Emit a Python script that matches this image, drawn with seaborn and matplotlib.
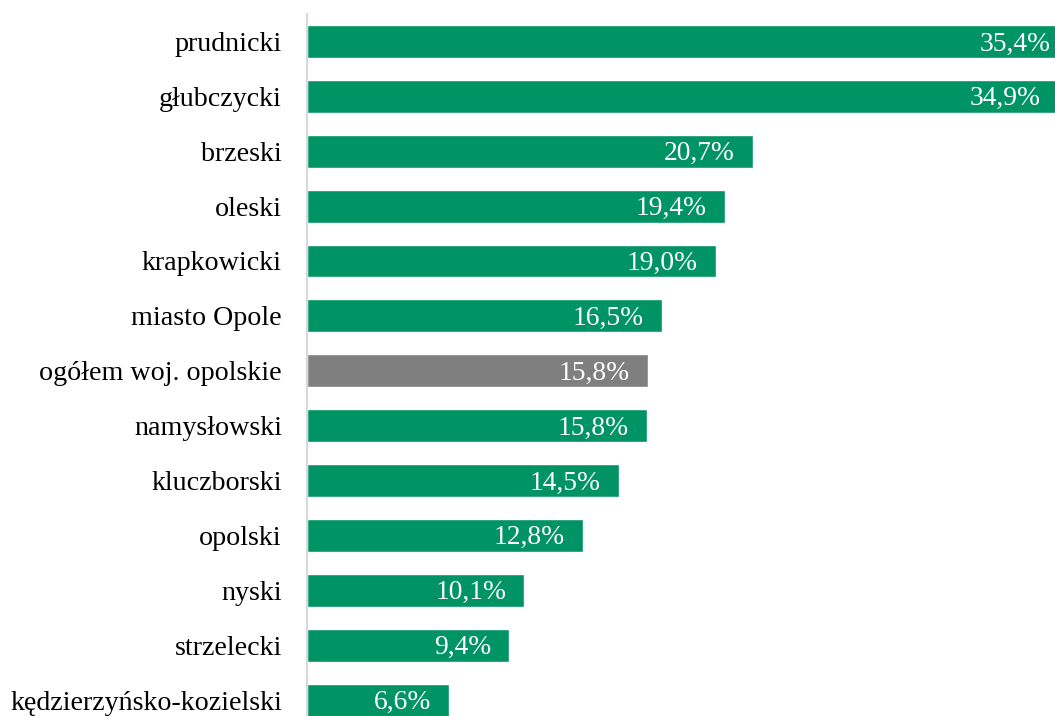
import matplotlib
matplotlib.use("Agg")
import matplotlib.pyplot as plt
import matplotlib.transforms as mtransforms
import seaborn as sns
import pandas as pd

categories = ["prudnicki", "głubczycki", "brzeski", "oleski", "krapkowicki",
              "miasto Opole", "ogółem woj. opolskie", "namysłowski", "kluczborski",
              "opolski", "nyski", "strzelecki", "kędzierzyńsko-kozielski"]
values = [35.4, 34.9, 20.7, 19.4, 19.0, 16.5, 15.85, 15.8, 14.5, 12.8, 10.1, 9.4, 6.6]
labels = ["35,4%", "34,9%", "20,7%", "19,4%", "19,0%", "16,5%", "15,8%", "15,8%",
          "14,5%", "12,8%", "10,1%", "9,4%", "6,6%"]
GREEN = "#009364"
GRAY = "#7F7F7F"
colors = [GRAY if c.startswith("ogółem") else GREEN for c in categories]

df = pd.DataFrame({"cat": categories, "val": values})

sns.set_style("white")
plt.rcParams["font.family"] = ["Liberation Serif", "DejaVu Serif"]

fig = plt.figure(figsize=(10.55, 7.16), dpi=100)
ax = fig.add_axes([307 / 1055, 1 - 727.5 / 716, 1 - 307 / 1055, (727.5 - 14) / 716])

sns.barplot(data=df, x="val", y="cat", hue="cat", palette=colors, legend=False,
            width=0.6, saturation=1, ax=ax, orient="h")

ax.set_xlim(0, 34.74)
ax.set_ylim(len(categories) - 0.5, -0.5)
ax.set_xlabel("")
ax.set_ylabel("")
ax.set_xticks([])
ax.tick_params(axis="y", length=0, pad=18, labelsize=20.2, labelcolor="black")

for s in ["top", "right", "bottom"]:
    ax.spines[s].set_visible(False)
ax.spines["left"].set_color("#D9D9D9")
ax.spines["left"].set_linewidth(1.6)

lab_tr = mtransforms.offset_copy(ax.transData, fig=fig, y=-9, units="dots")
for i, (v, lab) in enumerate(zip(values, labels)):
    ax.text(v - 0.85, i, lab, ha="right", va="baseline", color="white",
            fontsize=19.8, transform=lab_tr)

fig.savefig("out.png", dpi=100)
